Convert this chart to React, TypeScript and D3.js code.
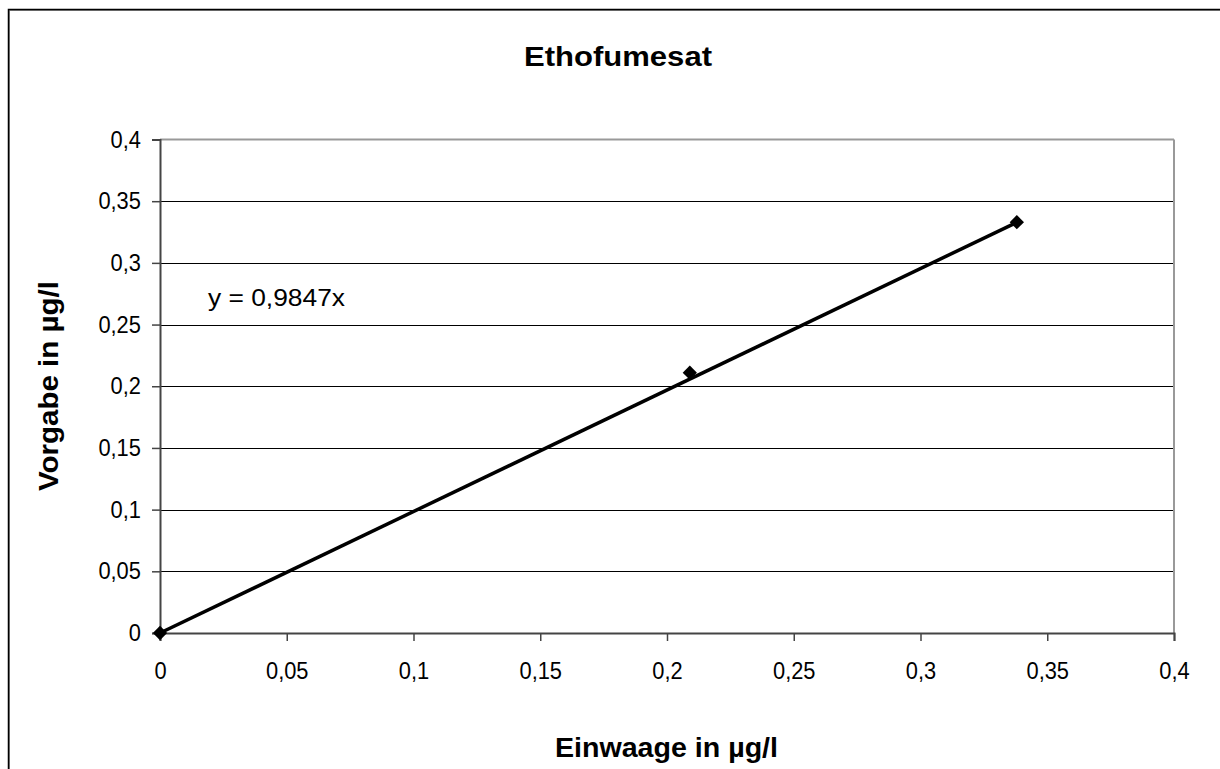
import * as d3 from "d3";
import { useEffect, useRef } from "react";

const xValues = [0, 0.209, 0.338];
const yValues = [0, 0.211, 0.333];
const slope = 0.9847;
const tickValues = [0, 0.05, 0.1, 0.15, 0.2, 0.25, 0.3, 0.35, 0.4];
const title = "Ethofumesat";
const xTitle = "Einwaage in µg/l";
const yTitle = "Vorgabe in µg/l";
const equation = "y = 0,9847x";

const fmt = (v: number) => String(v).replace(".", ",");

export default function App() {
  const ref = useRef<SVGSVGElement | null>(null);

  useEffect(() => {
    const el = ref.current;
    if (!el) return;
    const svg = d3.select(el);
    svg.selectAll("*").remove();

    const W = 1220;
    const H = 769;
    const left = 160;
    const right = 1174;
    const top = 139.5;
    const bottom = 633;
    const font = "'Liberation Sans', Arial, sans-serif";
    const squeeze = "scale(0.91,1)";

    const x = d3.scaleLinear().domain([0, 0.4]).range([left, right]);
    const y = d3.scaleLinear().domain([0, 0.4]).range([bottom, top]);

    svg.attr("width", W).attr("height", H).attr("viewBox", `0 0 ${W} ${H}`);

    // outer chart frame (runs past the window edges)
    svg.append("rect")
      .attr("x", 9.5).attr("y", 10.5).attr("width", 1400).attr("height", 1000)
      .attr("fill", "none").attr("stroke", "#888").attr("stroke-width", 1);
    svg.append("rect")
      .attr("x", 8.5).attr("y", 9.5).attr("width", 1400).attr("height", 1000)
      .attr("fill", "none").attr("stroke", "#000").attr("stroke-width", 1.5);

    // horizontal gridlines
    svg.append("g")
      .selectAll("line")
      .data(tickValues.filter((t) => t > 0 && t < 0.4))
      .join("line")
      .attr("x1", left).attr("x2", right)
      .attr("y1", (d) => Math.round(y(d)) + 0.5).attr("y2", (d) => Math.round(y(d)) + 0.5)
      .attr("stroke", "#000").attr("stroke-width", 1);

    // plot area border: top and right grey
    svg.append("line")
      .attr("x1", left).attr("x2", right).attr("y1", top).attr("y2", top)
      .attr("stroke", "#999").attr("stroke-width", 2);
    svg.append("line")
      .attr("x1", right).attr("x2", right).attr("y1", top).attr("y2", bottom)
      .attr("stroke", "#999").attr("stroke-width", 2);

    // y axis
    const yAxis = svg.append("g")
      .attr("transform", `translate(${left},0)`)
      .call(d3.axisLeft(y).tickValues(tickValues).tickSize(8).tickPadding(13).tickFormat((d) => fmt(+d)));
    yAxis.select(".domain").attr("stroke", "#444").attr("stroke-width", 2);
    yAxis.selectAll(".tick line").attr("stroke", "#444").attr("stroke-width", 1.5);
    yAxis.selectAll(".tick text")
      .attr("fill", "#000").attr("font-size", 24).attr("font-family", font)
      .attr("transform", squeeze);

    // x axis
    const xAxis = svg.append("g")
      .attr("transform", `translate(0,${bottom})`)
      .call(d3.axisBottom(x).tickValues(tickValues).tickSize(8).tickPadding(21).tickFormat((d) => fmt(+d)));
    xAxis.select(".domain").attr("stroke", "#444").attr("stroke-width", 2);
    xAxis.selectAll(".tick line").attr("stroke", "#444").attr("stroke-width", 1.5);
    xAxis.selectAll(".tick text")
      .attr("fill", "#000").attr("font-size", 24).attr("font-family", font)
      .attr("transform", squeeze);

    // trendline through origin
    const xMax = d3.max(xValues) ?? 0;
    svg.append("line")
      .attr("x1", x(0)).attr("y1", y(0))
      .attr("x2", x(xMax)).attr("y2", y(slope * xMax))
      .attr("stroke", "#000").attr("stroke-width", 3.5);

    // markers
    const pts = xValues.map((v, i) => ({ x: v, y: yValues[i] }));
    svg.append("g")
      .selectAll("path")
      .data(pts)
      .join("path")
      .attr("transform", (d) => `translate(${x(d.x)},${y(d.y)})`)
      .attr("d", d3.symbol(d3.symbolDiamond2, 130)())
      .attr("fill", "#000");

    // equation label
    svg.append("text")
      .attr("x", 208).attr("y", 306)
      .attr("font-size", 24).attr("font-family", font)
      .attr("textLength", 137).attr("lengthAdjust", "spacingAndGlyphs")
      .text(equation);

    // titles
    svg.append("text")
      .attr("x", 524).attr("y", 66)
      .attr("font-size", 27).attr("font-weight", "bold").attr("font-family", font)
      .attr("textLength", 188).attr("lengthAdjust", "spacingAndGlyphs")
      .text(title);
    svg.append("text")
      .attr("x", 555).attr("y", 757)
      .attr("font-size", 28).attr("font-weight", "bold").attr("font-family", font)
      .attr("textLength", 223).attr("lengthAdjust", "spacingAndGlyphs")
      .text(xTitle);
    svg.append("text")
      .attr("transform", `translate(58,491) rotate(-90)`)
      .attr("font-size", 28).attr("font-weight", "bold").attr("font-family", font)
      .attr("textLength", 210).attr("lengthAdjust", "spacingAndGlyphs")
      .text(yTitle);
  }, []);

  return (
    <svg
      ref={ref}
      style={{ position: "absolute", left: 0, top: 0, display: "block" }}
    />
  );
}
